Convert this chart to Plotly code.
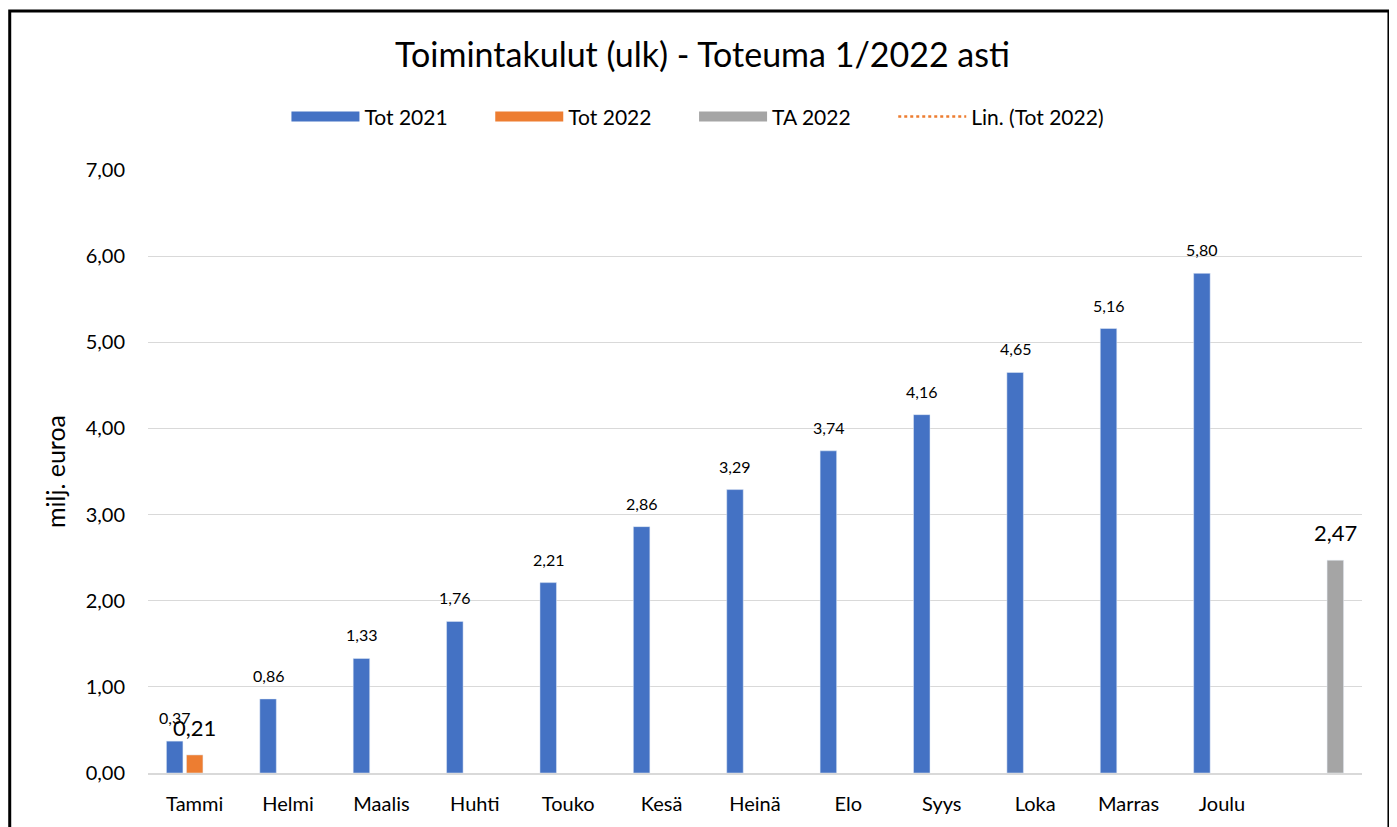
import plotly.graph_objects as go

months = ["Tammi", "Helmi", "Maalis", "Huhti", "Touko", "Kesä", "Heinä",
          "Elo", "Syys", "Loka", "Marras", "Joulu", ""]
tot2021 = [0.37, 0.86, 1.33, 1.76, 2.21, 2.86, 3.29, 3.74, 4.16, 4.65, 5.16, 5.80, None]
tot2022 = [0.21, None, None, None, None, None, None, None, None, None, None, None, None]
ta2022 = [None, None, None, None, None, None, None, None, None, None, None, None, 2.47]
yticks = [0, 1, 2, 3, 4, 5, 6, 7]

BLUE, ORANGE, GRAY = "#4472C4", "#ED7D31", "#A5A5A5"
FONT = "Lato"
BARGAP = 0.357
BARGROUPGAP = 0.175
W, H = 1389, 819
PAD = "\u00a0" * 7

xs = list(range(len(months)))
fig = go.Figure()
series = [("Tot 2021", tot2021, BLUE, 16), ("Tot 2022", tot2022, ORANGE, 22), ("TA 2022", ta2022, GRAY, 22)]
slot = (1 - BARGAP) / len(series)
for k, (name, vals, col, fs) in enumerate(series):
    fig.add_trace(go.Bar(x=xs, y=vals, name=name, marker_color=col, showlegend=False,
                         legendgroup=name))
    for i, v in enumerate(vals):
        if v is None:
            continue
        fig.add_annotation(x=i + (k - 1) * slot, y=v, xref="x", yref="y",
                           text=f"{v:.2f}".replace(".", ","), showarrow=False,
                           yanchor="bottom", yshift=12,
                           font=dict(family=FONT, size=fs, color="#000000"))
    fig.add_trace(go.Scatter(x=[None], y=[None], mode="lines", name=name + PAD, legendgroup=name,
                             line=dict(color=col, width=14)))
fig.add_trace(go.Scatter(x=[None], y=[None], mode="lines", name="Lin. (Tot 2022)",
                         line=dict(color=ORANGE, width=2.5, dash="dot")))

fig.add_shape(type="rect", xref="paper", yref="paper",
              x0=-0.1139, x1=1.0222, y0=-0.2, y1=1.2637,
              line=dict(color="#000000", width=3), layer="above")

fig.update_layout(
    width=W, height=H,
    margin=dict(l=140, r=35, t=162, b=54),
    paper_bgcolor="white", plot_bgcolor="white",
    separators=", ",
    barmode="group", bargap=BARGAP, bargroupgap=BARGROUPGAP,
    font=dict(family=FONT, size=20, color="#000000"),
    title=dict(text="Toimintakulut (ulk) - Toteuma 1/2022 asti", x=0.5, xanchor="center",
               y=1 - 47 / H, yanchor="middle", font=dict(family=FONT, size=34, color="#000000")),
    legend=dict(orientation="h", x=0.453, xanchor="center", y=1.088, yanchor="middle",
                font=dict(family=FONT, size=21), itemwidth=68,
                bgcolor="rgba(0,0,0,0)"),
    xaxis=dict(range=[-0.5, len(months) - 0.5], tickmode="array", tickvals=xs, ticktext=months,
               showgrid=False, showline=True, linecolor="#D9D9D9", linewidth=1.5,
               ticks="", ticklabelstandoff=12, tickfont=dict(family=FONT, size=20)),
    yaxis=dict(range=[0, 7], tickmode="array", tickvals=yticks, tickformat=".2f",
               showgrid=True, gridcolor="#D9D9D9", gridwidth=1, zeroline=False,
               ticks="", ticklabelstandoff=22, tickfont=dict(family=FONT, size=20),
               title=dict(text="milj. euroa", font=dict(family=FONT, size=25), standoff=12)),
)

fig.write_html("out.html")
